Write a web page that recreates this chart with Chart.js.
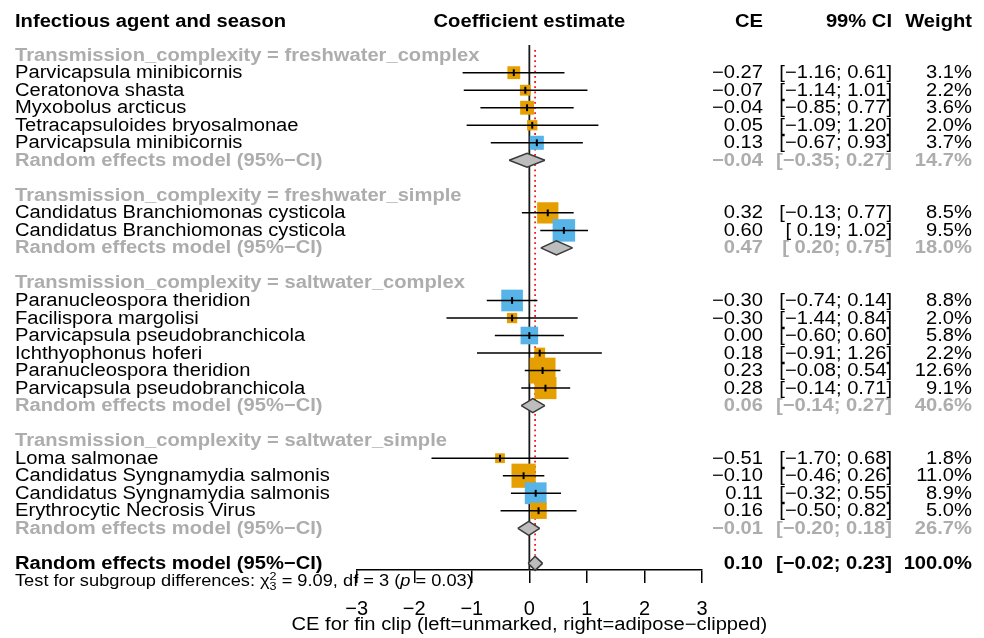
<!DOCTYPE html>
<html>
<head>
<meta charset="utf-8">
<script src="https://cdn.jsdelivr.net/npm/chart.js@4.4.1/dist/chart.umd.min.js"></script>
<style>
  html, body { margin: 0; padding: 0; background: #ffffff; }
  canvas { display: block; }
</style>
</head>
<body>
<canvas id="forest" width="984" height="638"></canvas>
<script>
// ---- study-level estimates (coefficient estimate, 99% CI, weight) ----
const agents = [
  "Parvicapsula minibicornis", "Ceratonova shasta", "Myxobolus arcticus",
  "Tetracapsuloides bryosalmonae", "Parvicapsula minibicornis",
  "Candidatus Branchiomonas cysticola", "Candidatus Branchiomonas cysticola",
  "Paranucleospora theridion", "Facilispora margolisi", "Parvicapsula pseudobranchicola",
  "Ichthyophonus hoferi", "Paranucleospora theridion", "Parvicapsula pseudobranchicola",
  "Loma salmonae", "Candidatus Syngnamydia salmonis", "Candidatus Syngnamydia salmonis",
  "Erythrocytic Necrosis Virus"
];
const agentSubgroup = [0, 0, 0, 0, 0, 1, 1, 2, 2, 2, 2, 2, 2, 3, 3, 3, 3];
const agentSeason   = [0, 0, 0, 0, 1, 0, 1, 1, 0, 1, 0, 0, 0, 0, 0, 1, 0];
const ce     = [-0.27, -0.07, -0.04, 0.05, 0.13, 0.32, 0.60, -0.30, -0.30, 0.00, 0.18, 0.23, 0.28, -0.51, -0.10, 0.11, 0.16];
const ciLow  = [-1.16, -1.14, -0.85, -1.09, -0.67, -0.13, 0.19, -0.74, -1.44, -0.60, -0.91, -0.08, -0.14, -1.70, -0.46, -0.32, -0.50];
const ciHigh = [0.61, 1.01, 0.77, 1.20, 0.93, 0.77, 1.02, 0.14, 0.84, 0.60, 1.26, 0.54, 0.71, 0.68, 0.26, 0.55, 0.82];
const weight = [3.1, 2.2, 3.6, 2.0, 3.7, 8.5, 9.5, 8.8, 2.0, 5.8, 2.2, 12.6, 9.1, 1.8, 11.0, 8.9, 5.0];

// ---- subgroup random effects summaries (95% CI) ----
const subgroups      = ["freshwater_complex", "freshwater_simple", "saltwater_complex", "saltwater_simple"];
const subgroupCE     = [-0.04, 0.47, 0.06, -0.01];
const subgroupLow    = [-0.35, 0.20, -0.14, -0.20];
const subgroupHigh   = [0.27, 0.75, 0.27, 0.18];
const subgroupWeight = [14.7, 18.0, 40.6, 26.7];

// ---- overall random effects model ----
const overallCE = [0.10];
const overallLow = [-0.02];
const overallHigh = [0.23];
const overallWeight = [100.0];

// ---- test for subgroup differences ----
const testChi2 = [9.09];
const testDf = [3];
const testP = [0.03];

const axisTicks = [-3, -2, -1, 0, 1, 2, 3];
const axisTitle = "CE for fin clip (left=unmarked, right=adipose\u2212clipped)";

// ---- styling ----
const seasonColors = ["#E69F00", "#56B4E9"];
const GRAY_TEXT = "#ADADAD";
const DIAMOND_FILL = "#BDBDBD";
const DIAMOND_EDGE = "#3A3A3A";
const FONT = "'Liberation Sans', Arial, Helvetica, sans-serif";
const TXT = 18, TXT_SX = 1.12;        // main text size and horizontal stretch
const SMALL = 16, SMALL_SX = 1.14;    // footnote text
const BOX_SCALE = 7.3;                // square side = BOX_SCALE * sqrt(weight)
const DIAMOND_HALF = 0.4;             // diamond half height in rows

// ---- row layout ----
const rows = [];
const studyRow = [];
const subgroupRow = [];
let r = 0;
subgroups.forEach((g, gi) => {
  rows.push({ type: "heading", row: r, gi }); r++;
  agents.forEach((a, i) => {
    if (agentSubgroup[i] === gi) { rows.push({ type: "study", row: r, i }); studyRow[i] = r; r++; }
  });
  rows.push({ type: "subgroup", row: r, gi }); subgroupRow[gi] = r; r++;
  r++;
});
const overallRow = r;
const testRow = r + 1;
const Y_MIN = -0.58, Y_MAX = overallRow + 0.38;

const fmt = v => (v < 0 ? "\u2212" : "") + Math.abs(v).toFixed(2);
const fmtLow = v => (v < 0 ? "\u2212" : " ") + Math.abs(v).toFixed(2);
const fmtCI = (lo, hi) => "[" + fmtLow(lo) + "; " + fmt(hi) + "]";
const fmtW = w => w.toFixed(1) + "%";

// ---- datasets ----
const datasets = [];

// reference lines: no effect (0) and the overall random effects estimate
datasets.push({
  data: [{ x: 0, y: Y_MIN }, { x: 0, y: Y_MAX }],
  showLine: true, pointRadius: 0, borderColor: "#1a1a1a", borderWidth: 1.8, order: 9, clip: false
});
datasets.push({
  data: [{ x: overallCE[0], y: -0.3 }, { x: overallCE[0], y: overallRow - 0.45 }],
  showLine: true, pointRadius: 0, borderColor: "#FF1A1A", borderWidth: 1.8,
  borderDash: [1.8, 3.4], order: 8, clip: false
});

// weighted squares
datasets.push({
  data: ce.map((v, i) => ({ x: v, y: studyRow[i] })),
  pointStyle: "rect",
  pointRadius: weight.map(w => BOX_SCALE * Math.sqrt(w) / Math.SQRT2),
  pointBackgroundColor: agentSeason.map(s => seasonColors[s]),
  pointBorderWidth: 0,
  order: 7, clip: false
});

// confidence interval whiskers
const ciPts = [];
ce.forEach((v, i) => {
  ciPts.push({ x: ciLow[i], y: studyRow[i] }, { x: ciHigh[i], y: studyRow[i] }, { x: NaN, y: NaN });
});
datasets.push({
  data: ciPts, showLine: true, pointRadius: 0, borderColor: "#000", borderWidth: 1.5,
  spanGaps: false, order: 6, clip: false
});

// point estimate marks
datasets.push({
  data: ce.map((v, i) => ({ x: v, y: studyRow[i] })),
  pointStyle: "line", rotation: 90, pointRadius: 3.4,
  pointBorderColor: "#000", pointBorderWidth: 2,
  order: 5, clip: false
});

// diamonds: upper half + lower half filled to the upper half
function addDiamond(est, lo, hi, row) {
  datasets.push({
    data: [{ x: lo, y: row }, { x: est, y: row - DIAMOND_HALF }, { x: hi, y: row }],
    showLine: true, pointRadius: 0, borderColor: DIAMOND_EDGE, borderWidth: 1.5,
    fill: false, order: 1, clip: false
  });
  datasets.push({
    data: [{ x: lo, y: row }, { x: est, y: row + DIAMOND_HALF }, { x: hi, y: row }],
    showLine: true, pointRadius: 0, borderColor: DIAMOND_EDGE, borderWidth: 1.5,
    fill: "-1", backgroundColor: DIAMOND_FILL, order: 1, clip: false
  });
}
subgroups.forEach((g, gi) => addDiamond(subgroupCE[gi], subgroupLow[gi], subgroupHigh[gi], subgroupRow[gi]));
addDiamond(overallCE[0], overallLow[0], overallHigh[0], overallRow);

// ---- text columns drawn beside the plot ----
function sText(ctx, str, x, y, align, font, color, sx) {
  ctx.save();
  ctx.font = font;
  ctx.fillStyle = color;
  ctx.textAlign = align;
  ctx.textBaseline = "alphabetic";
  ctx.translate(x, y);
  ctx.scale(sx, 1);
  ctx.fillText(str, 0, 0);
  ctx.restore();
}
function textWidth(ctx, str, font, sx) {
  ctx.save(); ctx.font = font;
  const w = ctx.measureText(str).width * sx;
  ctx.restore();
  return w;
}

const COL_LABEL = 15, COL_CE = 763, COL_CI = 892, COL_W = 972;
const BASE = 5.5;

const forestText = {
  id: "forestText",
  afterDraw(chart) {
    const ctx = chart.ctx;
    const ys = chart.scales.y;
    const xs = chart.scales.x;
    const reg = TXT + "px " + FONT;
    const bold = "bold " + TXT + "px " + FONT;
    const midX = (xs.left + xs.right) / 2;

    // column headers
    const hy = 26.5;
    sText(ctx, "Infectious agent and season", COL_LABEL, hy, "left", bold, "#000", TXT_SX);
    sText(ctx, "Coefficient estimate", midX, hy, "center", bold, "#000", TXT_SX);
    sText(ctx, "CE", COL_CE, hy, "right", bold, "#000", TXT_SX);
    sText(ctx, "99% CI", COL_CI, hy, "right", bold, "#000", TXT_SX);
    sText(ctx, "Weight", COL_W, hy, "right", bold, "#000", TXT_SX);

    rows.forEach(item => {
      const y = ys.getPixelForValue(item.row) + BASE;
      if (item.type === "heading") {
        sText(ctx, "Transmission_complexity = " + subgroups[item.gi], COL_LABEL, y, "left", bold, GRAY_TEXT, TXT_SX);
      } else if (item.type === "study") {
        const i = item.i;
        sText(ctx, agents[i], COL_LABEL, y, "left", reg, "#000", TXT_SX);
        sText(ctx, fmt(ce[i]), COL_CE, y, "right", reg, "#000", TXT_SX);
        sText(ctx, fmtCI(ciLow[i], ciHigh[i]), COL_CI, y, "right", reg, "#000", TXT_SX);
        sText(ctx, fmtW(weight[i]), COL_W, y, "right", reg, "#000", TXT_SX);
      } else {
        const g = item.gi;
        sText(ctx, "Random effects model (95%\u2212CI)", COL_LABEL, y, "left", bold, GRAY_TEXT, TXT_SX);
        sText(ctx, fmt(subgroupCE[g]), COL_CE, y, "right", bold, GRAY_TEXT, TXT_SX);
        sText(ctx, fmtCI(subgroupLow[g], subgroupHigh[g]), COL_CI, y, "right", bold, GRAY_TEXT, TXT_SX);
        sText(ctx, fmtW(subgroupWeight[g]), COL_W, y, "right", bold, GRAY_TEXT, TXT_SX);
      }
    });

    // overall model
    const oy = ys.getPixelForValue(overallRow) + BASE;
    sText(ctx, "Random effects model (95%\u2212CI)", COL_LABEL, oy, "left", bold, "#000", TXT_SX);
    sText(ctx, fmt(overallCE[0]), COL_CE, oy, "right", bold, "#000", TXT_SX);
    sText(ctx, fmtCI(overallLow[0], overallHigh[0]), COL_CI, oy, "right", bold, "#000", TXT_SX);
    sText(ctx, fmtW(overallWeight[0]), COL_W, oy, "right", bold, "#000", TXT_SX);

    // test for subgroup differences
    const ty = ys.getPixelForValue(testRow) + BASE;
    const sReg = SMALL + "px " + FONT;
    const sIt = "italic " + SMALL + "px " + FONT;
    const sSub = "11px " + FONT;
    let x = COL_LABEL;
    const run = (str, font, dy) => {
      sText(ctx, str, x, ty + (dy || 0), "left", font, "#000", SMALL_SX);
      x += textWidth(ctx, str, font, SMALL_SX);
    };
    run("Test for subgroup differences: ", sReg);
    run("\u03c7", sReg);
    sText(ctx, "2", x, ty - 6, "left", sSub, "#000", SMALL_SX);
    sText(ctx, String(testDf[0]), x, ty + 4, "left", sSub, "#000", SMALL_SX);
    x += textWidth(ctx, "2", sSub, SMALL_SX);
    run(" = " + testChi2[0].toFixed(2) + ", df = " + testDf[0] + " (", sReg);
    run("p", sIt);
    run(" = " + testP[0].toFixed(2) + ")", sReg);

    // x axis title, centred under the axis
    sText(ctx, axisTitle, midX, 630, "center", reg, "#000", TXT_SX);
  }
};

Chart.defaults.font.family = FONT;

new Chart(document.getElementById("forest"), {
  type: "scatter",
  data: { datasets },
  options: {
    responsive: false,
    animation: false,
    events: [],
    devicePixelRatio: 1,
    layout: { padding: { left: 356.7, right: 282, top: 45, bottom: 0 } },
    plugins: { legend: { display: false }, tooltip: { enabled: false } },
    scales: {
      x: {
        type: "linear",
        min: -3, max: 3,
        afterBuildTicks: s => { s.ticks = axisTicks.map(v => ({ value: v })); },
        afterFit: s => { s.height = 68; },
        border: { display: true, color: "#000", width: 1.5 },
        grid: { display: true, drawOnChartArea: false, drawTicks: true, tickLength: 13, color: "#000", lineWidth: 1.5 },
        ticks: {
          color: "#000", padding: 14, maxRotation: 0,
          font: { size: 20, family: FONT },
          callback: v => (v < 0 ? "\u2212" + Math.abs(v) : String(v))
        },
        title: { display: false }
      },
      y: {
        type: "linear",
        display: false,
        reverse: true,
        min: Y_MIN, max: Y_MAX
      }
    }
  },
  plugins: [forestText]
});
</script>
</body>
</html>
